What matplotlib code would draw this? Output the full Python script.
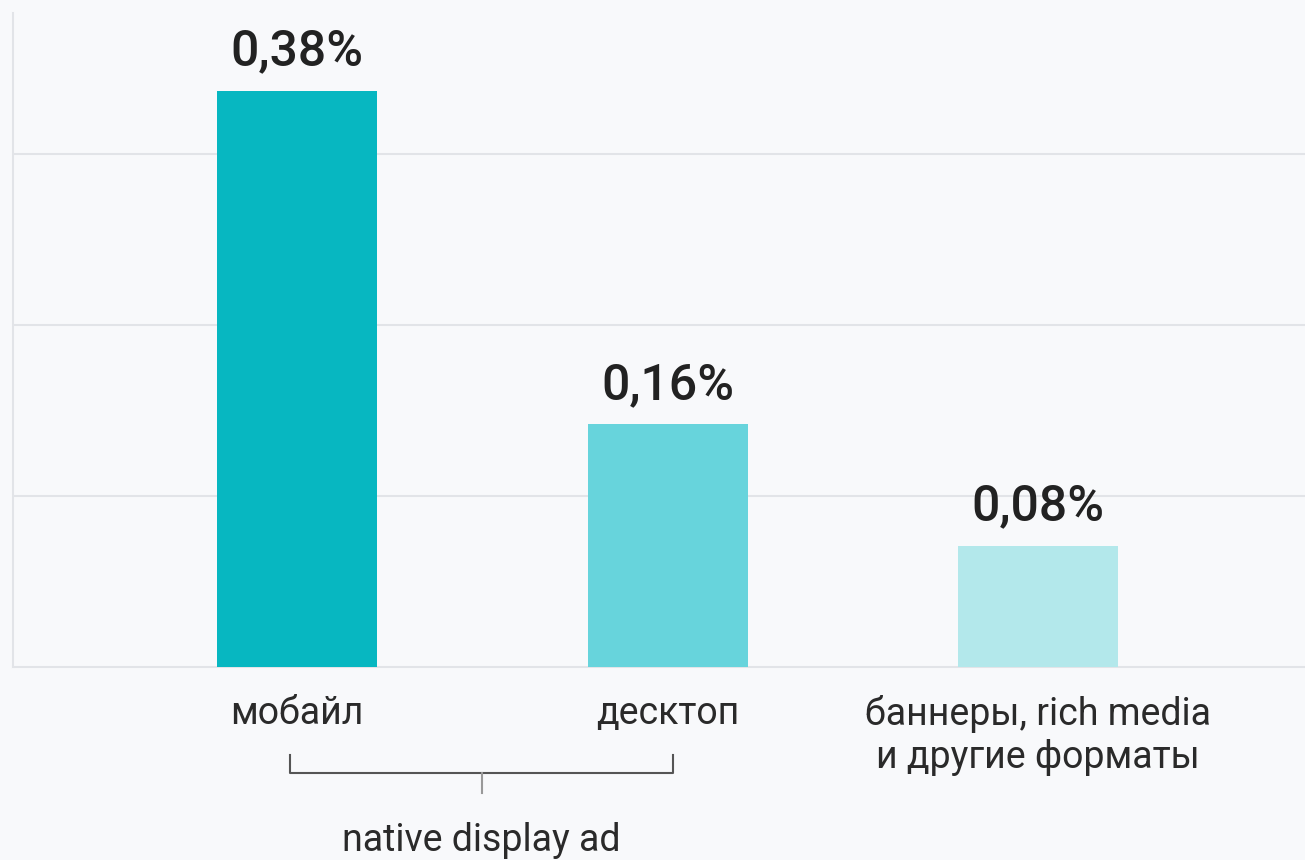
import matplotlib
matplotlib.use("Agg")
import matplotlib.pyplot as plt
import matplotlib.transforms as mtransforms

categories = ["мобайл", "десктоп", "баннеры, rich media\nи другие форматы"]
values = [0.38, 0.16, 0.08]
value_labels = ["0,38%", "0,16%", "0,08%"]
colors = ["#07b7c1", "#67d4dc", "#b3e8eb"]
grid_levels = [0.1128, 0.2256, 0.3384]
group_label = "native display ad"

plt.rcParams['font.family'] = ['Roboto', 'DejaVu Sans']

bg = "#f8f9fb"
fig = plt.figure(figsize=(13.05, 8.6), dpi=100, facecolor=bg)
ax = fig.add_axes([13 / 1305, 193 / 860, 1292 / 1305, 654 / 860], facecolor=bg)

x = list(range(len(categories)))
ax.bar(x, values, width=0.432, color=colors, zorder=3)

for xi, v, lab in zip(x, values, value_labels):
    ax.annotate(lab, (xi, v), xytext=(0, 11), textcoords="offset points",
                ha="center", va="bottom", fontsize=36, fontweight="medium",
                color="#222222")

ax.set_xlim(-0.767, 2.72)
ax.set_ylim(0, 0.4314)

for g in grid_levels:
    ax.axhline(g, color="#e2e4e8", lw=1.5, zorder=1)

ax.set_yticks([])
ax.set_xticks(x)
ax.set_xticklabels(categories, fontsize=27, color="#2a2a2a")
for t in ax.get_xticklabels():
    t.set_linespacing(1.22)
ax.tick_params(axis="x", length=0, pad=20)

for s in ["top", "right"]:
    ax.spines[s].set_visible(False)
ax.spines["left"].set_color("#e2e4e8")
ax.spines["left"].set_linewidth(1.5)
ax.spines["bottom"].set_color("#e2e4e8")
ax.spines["bottom"].set_linewidth(1.5)

# bracket grouping the two native formats
tr = mtransforms.blended_transform_factory(ax.transData, ax.transAxes)
bx0, bx1 = -0.02, 1.015
bmid = (bx0 + bx1) / 2
kw = dict(color="#555555", lw=1.5, transform=tr, clip_on=False)
ax.plot([bx0, bx0, bx1, bx1], [-0.1346, -0.162, -0.162, -0.1346], **kw)
ax.plot([bmid, bmid], [-0.162, -0.193], color="#999999", lw=1.5,
        transform=tr, clip_on=False)
ax.text(bmid, -0.265, group_label, transform=tr, ha="center", va="center",
        fontsize=27, color="#2a2a2a")

fig.savefig("out.png", dpi=100, facecolor=bg)
